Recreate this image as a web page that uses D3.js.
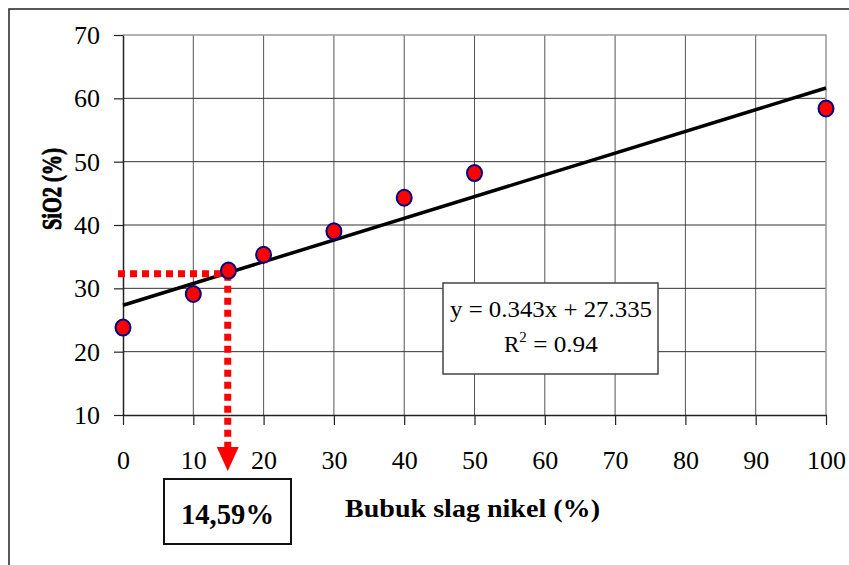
<!DOCTYPE html>
<html><head><meta charset="utf-8">
<script src="https://cdn.jsdelivr.net/npm/d3@7"></script>
<style>body{margin:0;background:#fff}svg text{font-family:"Liberation Serif","Times New Roman",serif}</style>
</head><body><svg id="c" width="849" height="565"></svg>
<script>
const xValues = [0, 10, 15, 20, 30, 40, 50, 100];
const sio2Values = [23.8, 29.1, 32.8, 35.3, 39.0, 44.3, 48.2, 58.4];
const xTicks = [0, 10, 20, 30, 40, 50, 60, 70, 80, 90, 100];
const yTicks = [10, 20, 30, 40, 50, 60, 70];
const slope = 0.343, intercept = 27.335, r2 = 0.94;
const markX = 14.9, markY = 32.3, markLabel = "14,59%";
const xTitle = "Bubuk slag nikel (%)", yTitle = "SiO2 (%)";

const svg = d3.select("#c");
const L = 123, R = 826, T = 35, B = 415;
const x = d3.scaleLinear().domain([0, 100]).range([L, R]);
const y = d3.scaleLinear().domain([10, 70]).range([B, T]);

// outer frame
svg.append("rect").attr("x", 9).attr("y", 9).attr("width", 860).attr("height", 600)
  .attr("fill", "none").attr("stroke", "#222").attr("stroke-width", 1.5);

// grid
svg.append("g").selectAll("line").data(xTicks.filter(d => d > 0 && d < 100)).join("line")
  .attr("x1", d => x(d)).attr("x2", d => x(d)).attr("y1", T).attr("y2", B)
  .attr("stroke", "#555").attr("stroke-width", 1);
svg.append("g").selectAll("line").data(yTicks.filter(d => d > 10 && d < 70)).join("line")
  .attr("x1", L).attr("x2", R).attr("y1", d => y(d)).attr("y2", d => y(d))
  .attr("stroke", "#333").attr("stroke-width", 1);
svg.append("path").attr("d", `M${L},${T}H${R}V${B}`).attr("fill", "none")
  .attr("stroke", "#999").attr("stroke-width", 1.5);

// axes
const xAxis = svg.append("g").attr("transform", `translate(0,${B})`)
  .call(d3.axisBottom(x).tickValues(xTicks).tickSize(10).tickPadding(25).tickSizeOuter(0));
const yAxis = svg.append("g").attr("transform", `translate(${L},0)`)
  .call(d3.axisLeft(y).tickValues(yTicks).tickSize(9).tickPadding(14).tickSizeOuter(0));
[xAxis, yAxis].forEach(a => {
  a.select(".domain").attr("stroke", "#222").attr("stroke-width", 1.5);
  a.selectAll(".tick line").attr("stroke", "#222").attr("stroke-width", 1.2);
  a.selectAll("text").attr("font-size", 26).attr("fill", "#000")
    .attr("font-family", "Liberation Serif, Times New Roman, serif");
});
xAxis.selectAll("text").attr("dy", "0").attr("y", 54);
yAxis.selectAll("text").attr("dy", "0.33em");

// trend line
svg.append("line").attr("x1", x(0)).attr("y1", y(intercept))
  .attr("x2", x(100)).attr("y2", y(slope * 100 + intercept))
  .attr("stroke", "#000").attr("stroke-width", 3.5);

// red dashed guide
svg.append("line").attr("x1", x(0) - 5).attr("x2", x(markX)).attr("y1", y(markY)).attr("y2", y(markY))
  .attr("stroke", "#ff0000").attr("stroke-width", 7).attr("stroke-dasharray", "7,5");
svg.append("line").attr("x1", x(markX)).attr("x2", x(markX)).attr("y1", y(markY)).attr("y2", 448)
  .attr("stroke", "#ff0000").attr("stroke-width", 7).attr("stroke-dasharray", "7,5");
svg.append("path").attr("d", `M${x(markX) - 11},447L${x(markX) + 11},447L${x(markX)},471Z`).attr("fill", "#ff0000");

// points
svg.append("g").selectAll("ellipse").data(xValues.map((d, i) => [d, sio2Values[i]])).join("ellipse")
  .attr("cx", d => x(d[0])).attr("cy", d => y(d[1])).attr("rx", 7.5).attr("ry", 8)
  .attr("fill", "#ff0000").attr("stroke", "#000080").attr("stroke-width", 2);

// equation box
svg.append("rect").attr("x", 443).attr("y", 283).attr("width", 215).attr("height", 91)
  .attr("fill", "#fff").attr("stroke", "#444").attr("stroke-width", 1.5);
svg.append("text").attr("x", 450).attr("y", 317).attr("font-size", 23)
  .attr("textLength", 202).attr("lengthAdjust", "spacingAndGlyphs")
  .text(`y = ${slope}x + ${intercept}`);
const rt = svg.append("text").attr("x", 504).attr("y", 352).attr("font-size", 23);
rt.append("tspan").text("R");
rt.append("tspan").attr("font-size", 15).attr("dy", -10).text("2");
rt.append("tspan").attr("dy", 10).attr("textLength", 71).attr("lengthAdjust", "spacingAndGlyphs").text(` = ${r2}`);

// marker label box
svg.append("rect").attr("x", 164).attr("y", 479).attr("width", 127).attr("height", 65)
  .attr("fill", "#fff").attr("stroke", "#111").attr("stroke-width", 2);
svg.append("text").attr("x", 181).attr("y", 524)
  .attr("font-size", 29).attr("font-weight", "bold")
  .attr("textLength", 93).attr("lengthAdjust", "spacingAndGlyphs").text(markLabel);

// axis titles
svg.append("text").attr("x", 345).attr("y", 517)
  .attr("font-size", 25).attr("font-weight", "bold")
  .attr("textLength", 255).attr("lengthAdjust", "spacingAndGlyphs").text(xTitle);
svg.append("text").attr("transform", "translate(61,230) rotate(-90)")
  .attr("font-size", 28).attr("font-weight", "bold")
  .attr("stroke", "#000").attr("stroke-width", 0.9)
  .attr("textLength", 82).attr("lengthAdjust", "spacingAndGlyphs").text(yTitle);
</script></body></html>
